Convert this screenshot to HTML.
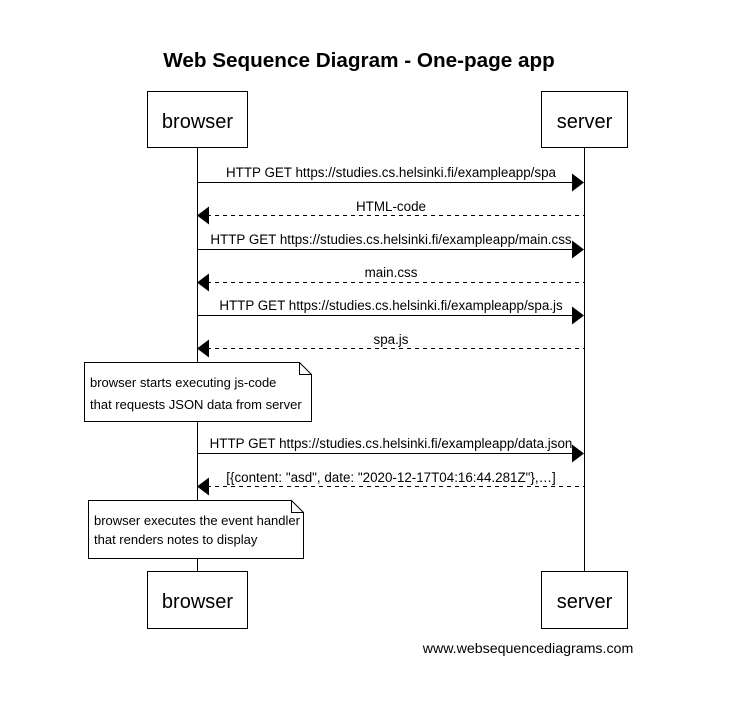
<!DOCTYPE html>
<html><head><meta charset="utf-8"><style>
html,body{margin:0;padding:0;background:#fff;}
svg{display:block;font-family:"Liberation Sans",Arial,sans-serif;}
</style></head><body>
<svg width="751" height="711" viewBox="0 0 751 711" xmlns="http://www.w3.org/2000/svg">
<rect width="751" height="711" fill="#fff"/>
<text x="359" y="67" font-size="20.7" font-weight="bold" text-anchor="middle">Web Sequence Diagram - One-page app</text>
<g stroke="#000" stroke-width="1" fill="#fff">
<line x1="197.5" y1="148" x2="197.5" y2="571"/>
<line x1="584.5" y1="148" x2="584.5" y2="571"/>
<rect x="147.5" y="91.5" width="100" height="56"/>
<rect x="541.5" y="91.5" width="86" height="56"/>
<rect x="147.5" y="571.5" width="100" height="57"/>
<rect x="541.5" y="571.5" width="86" height="57"/>
</g>
<g font-size="20" text-anchor="middle">
<text x="197.5" y="128">browser</text>
<text x="584.5" y="128">server</text>
<text x="197.5" y="608">browser</text>
<text x="584.5" y="608">server</text>
</g>
<g stroke="#000" stroke-width="1" fill="none">
<line x1="197" y1="182.5" x2="574" y2="182.5"/>
<line x1="207" y1="215.5" x2="584" y2="215.5" stroke-dasharray="4,4"/>
<line x1="197" y1="249.5" x2="574" y2="249.5"/>
<line x1="207" y1="282.5" x2="584" y2="282.5" stroke-dasharray="4,4"/>
<line x1="197" y1="315.5" x2="574" y2="315.5"/>
<line x1="207" y1="348.5" x2="584" y2="348.5" stroke-dasharray="4,4"/>
<line x1="197" y1="453.5" x2="574" y2="453.5"/>
<line x1="207" y1="486.5" x2="584" y2="486.5" stroke-dasharray="4,4"/>
</g>
<g fill="#000">
<polygon points="584,182.5 572,173.5 572,191.5"/>
<polygon points="197,215.5 209,206.5 209,224.5"/>
<polygon points="584,249.5 572,240.5 572,258.5"/>
<polygon points="197,282.5 209,273.5 209,291.5"/>
<polygon points="584,315.5 572,306.5 572,324.5"/>
<polygon points="197,348.5 209,339.5 209,357.5"/>
<polygon points="584,453.5 572,444.5 572,462.5"/>
<polygon points="197,486.5 209,477.5 209,495.5"/>
</g>
<g font-size="13.4" text-anchor="middle">
<text x="391" y="177">HTTP GET https://studies.cs.helsinki.fi/exampleapp/spa</text>
<text x="391" y="211">HTML-code</text>
<text x="391" y="244">HTTP GET https://studies.cs.helsinki.fi/exampleapp/main.css</text>
<text x="391" y="277">main.css</text>
<text x="391" y="310">HTTP GET https://studies.cs.helsinki.fi/exampleapp/spa.js</text>
<text x="391" y="344">spa.js</text>
<text x="391" y="448">HTTP GET https://studies.cs.helsinki.fi/exampleapp/data.json</text>
<text x="391" y="482">[{content: "asd", date: "2020-12-17T04:16:44.281Z"},…]</text>
</g>
<g stroke="#000" stroke-width="1" fill="#fff">
<path d="M84.5,362.5 H299.5 L311.5,374.5 V421.5 H84.5 Z"/>
<path d="M299.5,362.5 V374.5 H311.5" fill="none"/>
<path d="M88.5,500.5 H291.5 L303.5,512.5 V558.5 H88.5 Z"/>
<path d="M291.5,500.5 V512.5 H303.5" fill="none"/>
</g>
<g font-size="13">
<text x="90" y="387">browser starts executing js-code</text>
<text x="90" y="409">that requests JSON data from server</text>
<text x="94" y="525">browser executes the event handler</text>
<text x="94" y="544">that renders notes to display</text>
</g>
<text x="528" y="653" font-size="14.2" text-anchor="middle">www.websequencediagrams.com</text>
</svg>
</body></html>
